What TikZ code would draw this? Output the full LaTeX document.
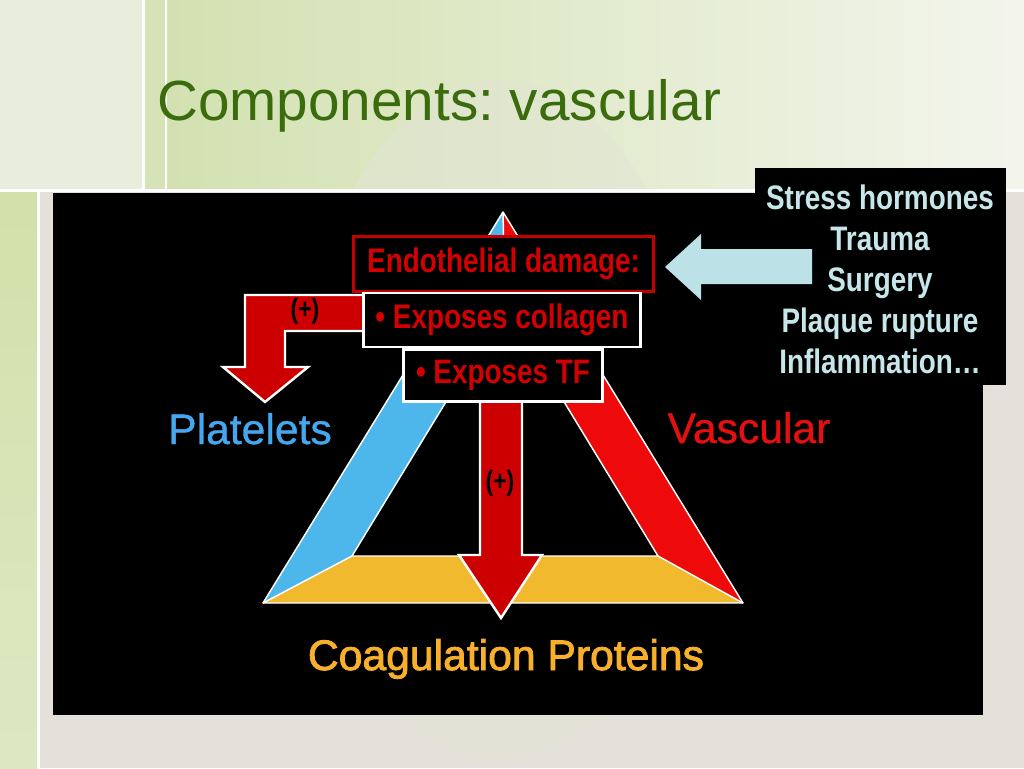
\documentclass[tikz,border=0pt]{standalone}
\usepackage{fontspec}
\setmainfont{Liberation Sans}
\newfontfamily\narrowbf[FakeStretch=0.82]{Liberation Sans}
\newfontfamily\labelfont[FakeBold=0.8]{Liberation Sans}
\newfontfamily\coagfont[FakeBold=2]{Liberation Sans}
\definecolor{titlegreen}{HTML}{3A6B0C}
\definecolor{boxred}{HTML}{C40000}
\definecolor{txtred}{HTML}{D20000}
\definecolor{arrred}{HTML}{CC0000}
\definecolor{triblue}{HTML}{4DB6EA}
\definecolor{trired}{HTML}{EE0A0A}
\definecolor{triyel}{HTML}{F0B92E}
\definecolor{plblue}{HTML}{45A8EE}
\definecolor{vasred}{HTML}{E41010}
\definecolor{coagyel}{HTML}{F7AF2C}
\definecolor{lightcyan}{HTML}{BCE2E8}
\definecolor{stresstxt}{HTML}{C6E6EA}
\definecolor{bggray}{HTML}{E3E1DA}
\definecolor{bgleft}{HTML}{E8EEDB}
\definecolor{bgstrip}{HTML}{D6E3B6}
\definecolor{bggreenA}{HTML}{D3E1B1}
\definecolor{bggreenB}{HTML}{F3F5EC}
\definecolor{barA}{HTML}{D2E0AA}
\definecolor{barB}{HTML}{DDE8C2}
\definecolor{eggcol}{HTML}{E2E5D4}
\tikzset{
  dmgbox/.style={draw=boxred, line width=2.2pt, fill=black, inner sep=0pt,
    minimum width=225pt, minimum height=41.25pt,
    font=\narrowbf\bfseries\fontsize{25.5}{30}\selectfont, text=txtred},
  whitebox/.style={draw=white, line width=1.9pt, fill=black, inner sep=0pt,
    font=\narrowbf\bfseries\fontsize{25.5}{30}\selectfont, text=txtred},
  blockarrow/.style={fill=arrred, draw=white, line width=1.8pt, line join=miter},
  pluslabel/.style={font=\narrowbf\bfseries\fontsize{21}{24}\selectfont, text=black, inner sep=0pt},
  biglabel/.style={font=\labelfont\fontsize{32}{36}\selectfont, inner sep=0pt, anchor=base},
  triedge/.style={draw=white, line width=1.1pt, line join=round}
}
\begin{document}
\frenchspacing
\begin{tikzpicture}[x=0.75pt,y=-0.75pt]
\useasboundingbox (0,0) rectangle (1024,768);
% background
\fill[bggray] (0,0) rectangle (1024,768);
\shade[left color=bggreenA, right color=bggreenB] (166,0) rectangle (1024,190);
\fill[bgleft] (0,0) rectangle (142,190);
\fill[bgstrip] (145,0) rectangle (165,190);
\fill[eggcol, opacity=0.55] (500,420) ellipse [x radius=200, y radius=340];
\fill[white] (142,0) rectangle (145,190);
\fill[white] (165,0) rectangle (167,190);
\fill[white] (0,189) rectangle (1024,192);
\shade[top color=barA, bottom color=barB] (0,192) rectangle (37,768);
\fill[white] (37,192) rectangle (40,768);
% title
\node[anchor=base west, inner sep=0pt, text=titlegreen,
      font=\fontsize{42.5}{48}\selectfont] (title) at (157,120) {Components: vascular};
% black panels
\fill[black] (53,193) rectangle (983,715);
\fill[black] (755,168) rectangle (1006,385);
% triangle
\coordinate (A) at (503,212);
\coordinate (BL) at (263,603);
\coordinate (BR) at (743,603);
\coordinate (IA) at (505,305);
\coordinate (IL) at (352,556);
\coordinate (IR) at (658,556);
\fill[triblue] (A) -- (IA) -- (IL) -- (BL) -- cycle;
\fill[trired] (A) -- (BR) -- (IR) -- (IA) -- cycle;
\fill[triyel] (BL) -- (IL) -- (IR) -- (BR) -- cycle;
\draw[triedge] (A) -- (BL) -- (BR) -- cycle;
\draw[triedge] (IA) -- (IL) -- (IR) -- cycle;
\draw[triedge] (A) -- (IA) (BL) -- (IL) (BR) -- (IR);
% corner labels
\node[biglabel, text=plblue] (plt) at (250,444) {Platelets};
\node[biglabel, text=vasred] (vas) at (749,443) {Vascular};
\node[biglabel, text=coagyel, font=\coagfont\fontsize{32}{36}\selectfont] (coag) at (506,670) {Coagulation Proteins};
% red block arrows
\draw[blockarrow] (480,398) -- (480,555) -- (459,555) -- (501,618) -- (542,555)
  -- (522,555) -- (522,398) -- cycle;
\draw[blockarrow] (364,295) -- (245,295) -- (245,367) -- (223,367) -- (265,402)
  -- (308,367) -- (285,367) -- (285,331) -- (364,331) -- cycle;
\node[pluslabel] (plusA) at (305,311) {(+)};
\node[pluslabel] (plusB) at (500,483) {(+)};
% boxes
\node[dmgbox] (dmg) at (503.5,264) {Endothelial damage:};
\node[whitebox, minimum width=207.75pt, minimum height=40.5pt] (col) at (502,320) {\textbullet\ Exposes collagen};
\node[whitebox, minimum width=149.25pt, minimum height=39pt] (tf) at (503,375.5) {\textbullet\ Exposes TF};
% stress list
\node[align=center, text=stresstxt, inner sep=0pt,
      font=\narrowbf\bfseries\fontsize{25.5}{30.75}\selectfont] (stress) at (880,279)
  {Stress hormones\\Trauma\\Surgery\\Plaque rupture\\Inflammation…};
% light blue arrow
\fill[lightcyan] (812,249) -- (701,249) -- (701,234) -- (665,267) -- (701,300)
  -- (701,284) -- (812,284) -- cycle;
\end{tikzpicture}
\end{document}
